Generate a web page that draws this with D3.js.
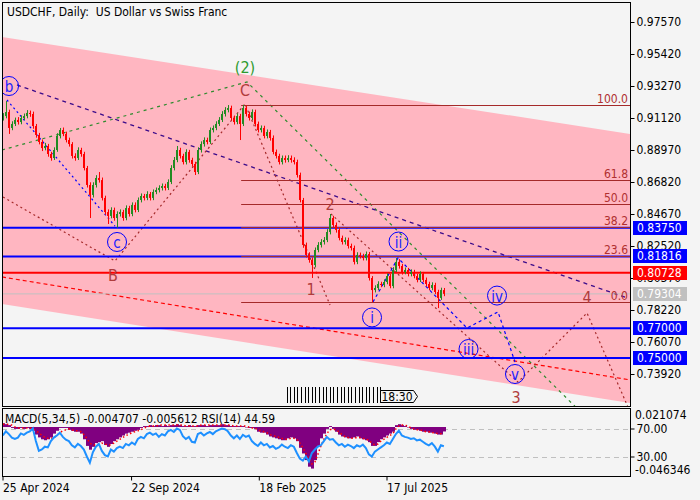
<!DOCTYPE html>
<html><head><meta charset="utf-8">
<script src="https://cdn.jsdelivr.net/npm/d3@7"></script>
<style>
html,body{margin:0;padding:0;background:#f4f4f4;}
svg{display:block;font-family:"DejaVu Sans Condensed","Liberation Sans",Arial,sans-serif;}
text{white-space:pre;}
</style></head><body>
<svg id="chart" width="700" height="500"></svg>
<script>
// ---------- DATA ----------
const chartTitle = "USDCHF, Daily:  US Dollar vs Swiss Franc";
const subTitle = "MACD(5,34,5) -0.004707 -0.005612 RSI(14) 44.59";
// x axis: days since 25 Apr 2024
const dateTickDays = [0, 150, 299, 448];
const dateTickLabels = ["25 Apr 2024", "22 Sep 2024", "18 Feb 2025", "17 Jul 2025"];
const priceTicks = [0.97570, 0.95420, 0.93270, 0.91120, 0.88970, 0.86820, 0.84670, 0.82520, 0.80370, 0.78220, 0.76070, 0.73920];
const subTickMacd = [0.021074, -0.046346];
const subTickRsi = [70, 30];
const barStartDay = 1, barStepDays = 3.5;
const firstOpen = 0.9112;
const closes = [
 0.9125,0.9152,0.9045,0.9072,0.9099,0.9085,0.9112,0.9125,0.9146,0.9139,
 0.9058,0.8998,0.8951,0.8910,0.8924,0.8870,0.8843,0.8897,0.8991,0.9031,
 0.9005,0.8964,0.8937,0.8857,0.8843,0.8897,0.8870,0.8776,0.8662,0.8595,
 0.8662,0.8709,0.8695,0.8575,0.8480,0.8454,0.8494,0.8440,0.8467,0.8480,
 0.8440,0.8507,0.8467,0.8528,0.8494,0.8561,0.8588,0.8575,0.8601,0.8575,
 0.8615,0.8628,0.8642,0.8655,0.8642,0.8682,0.8776,0.8830,0.8897,0.8857,
 0.8816,0.8884,0.8830,0.8803,0.8749,0.8897,0.8937,0.8964,0.8951,0.9031,
 0.9045,0.9072,0.9099,0.9139,0.9166,0.9179,0.9112,0.9085,0.9125,0.9072,
 0.9179,0.9139,0.9112,0.9152,0.9072,0.9031,0.9045,0.8991,0.9018,0.8978,
 0.8884,0.8857,0.8816,0.8843,0.8830,0.8843,0.8830,0.8816,0.8729,0.8561,
 0.8259,0.8192,0.8158,0.8124,0.8225,0.8259,0.8279,0.8292,0.8346,0.8440,
 0.8393,0.8360,0.8306,0.8279,0.8292,0.8252,0.8239,0.8145,0.8192,0.8185,
 0.8171,0.8198,0.8037,0.7956,0.7970,0.7997,0.7990,0.8010,0.8050,0.7983,
 0.8091,0.8145,0.8118,0.8077,0.8091,0.8064,0.8077,0.8050,0.8024,0.8064,
 0.8024,0.7997,0.7970,0.7990,0.7943,0.7903,0.7956,0.79304];
const highs = [
 0.9145,0.9226,0.9168,0.9090,0.9115,0.9118,0.9130,0.9142,0.9165,0.9162,
 0.9155,0.9072,0.9012,0.8968,0.8945,0.8938,0.8885,0.8915,0.9010,0.9045,
 0.9048,0.9020,0.8980,0.8950,0.8875,0.8915,0.8912,0.8885,0.8790,0.8680,
 0.8680,0.8728,0.8749,0.8712,0.8590,0.8498,0.8512,0.8510,0.8485,0.8498,
 0.8495,0.8525,0.8522,0.8545,0.8545,0.8578,0.8605,0.8602,0.8620,0.8615,
 0.8632,0.8645,0.8660,0.8672,0.8670,0.8700,0.8795,0.8850,0.8924,0.8912,
 0.8872,0.8902,0.8898,0.8845,0.8818,0.8915,0.8955,0.8982,0.8980,0.9048,
 0.9062,0.9090,0.9118,0.9158,0.9185,0.9199,0.9195,0.9128,0.9142,0.9140,
 0.9200,0.9195,0.9155,0.9170,0.9168,0.9088,0.9062,0.9060,0.9035,0.9032,
 0.8995,0.8900,0.8872,0.8860,0.8860,0.8862,0.8860,0.8848,0.8832,0.8745,
 0.8575,0.8275,0.8210,0.8175,0.8242,0.8278,0.8298,0.8312,0.8365,0.8467,
 0.8455,0.8410,0.8375,0.8322,0.8310,0.8308,0.8268,0.8255,0.8210,0.8208,
 0.8200,0.8215,0.8212,0.8050,0.7988,0.8015,0.8012,0.8028,0.8068,0.8065,
 0.8110,0.8171,0.8165,0.8132,0.8108,0.8105,0.8095,0.8092,0.8065,0.8082,
 0.8078,0.8040,0.8012,0.8008,0.8005,0.7958,0.7972,0.7970];
const lows = [
 0.9095,0.9110,0.9005,0.9030,0.9058,0.9068,0.9070,0.9098,0.9110,0.9120,
 0.9040,0.8980,0.8935,0.8890,0.8895,0.8852,0.8825,0.8830,0.8885,0.8975,
 0.8990,0.8948,0.8920,0.8840,0.8825,0.8830,0.8852,0.8760,0.8645,0.8440,
 0.8578,0.8645,0.8678,0.8558,0.8462,0.8400,0.8438,0.8422,0.8375,0.8450,
 0.8422,0.8425,0.8450,0.8452,0.8478,0.8480,0.8545,0.8558,0.8560,0.8558,
 0.8560,0.8600,0.8612,0.8625,0.8625,0.8628,0.8668,0.8760,0.8815,0.8840,
 0.8800,0.8800,0.8812,0.8785,0.8729,0.8735,0.8880,0.8920,0.8935,0.8938,
 0.9015,0.9030,0.9058,0.9085,0.9122,0.9150,0.9095,0.9068,0.9070,0.8964,
 0.9058,0.9122,0.9095,0.9098,0.9055,0.9015,0.9015,0.8975,0.8975,0.8960,
 0.8868,0.8840,0.8800,0.8800,0.8812,0.8815,0.8812,0.8800,0.8712,0.8545,
 0.8240,0.8175,0.8140,0.8037,0.8108,0.8210,0.8242,0.8262,0.8278,0.8330,
 0.8378,0.8342,0.8290,0.8262,0.8262,0.8235,0.8222,0.8128,0.8130,0.8168,
 0.8155,0.8155,0.8020,0.7876,0.7940,0.7955,0.7975,0.7975,0.7995,0.7968,
 0.7968,0.8078,0.8100,0.8060,0.8062,0.8048,0.8048,0.8035,0.8008,0.8010,
 0.8008,0.7980,0.7955,0.7955,0.7928,0.7835,0.7890,0.7915];
const macdHist = [
 0.004,0.003,0.002,-0.001,-0.002,-0.002,-0.001,-0.002,-0.001,-0.002,
 -0.004,-0.008,-0.011,-0.013,-0.014,-0.013,-0.011,-0.007,-0.004,-0.001,
 -0.001,-0.001,-0.003,-0.004,-0.005,-0.005,-0.007,-0.013,-0.020,-0.024,
 -0.021,-0.017,-0.016,-0.015,-0.019,-0.021,-0.018,-0.015,-0.013,-0.011,
 -0.009,-0.007,-0.006,-0.005,-0.004,-0.003,-0.001,0.001,0.001,0.002,
 0.001,0.002,0.002,0.001,0.002,0.001,0.002,0.002,0.003,0.002,
 0.001,0.001,0.002,0.001,0.001,0.002,0.002,0.002,0.001,0.002,
 0.002,0.002,0.002,0.003,0.002,0.002,0.001,0.001,0.001,0.001,
 0.001,0.000,-0.001,-0.001,-0.002,-0.005,-0.006,-0.006,-0.008,-0.010,
 -0.011,-0.012,-0.013,-0.014,-0.014,-0.012,-0.011,-0.012,-0.015,-0.022,
 -0.028,-0.035,-0.042,-0.044,-0.035,-0.020,-0.012,-0.007,-0.002,0.001,
 -0.002,-0.005,-0.008,-0.010,-0.011,-0.012,-0.012,-0.011,-0.010,-0.012,
 -0.013,-0.014,-0.016,-0.020,-0.020,-0.016,-0.013,-0.011,-0.009,-0.007,
 -0.005,0.002,0.003,0.002,0.001,0.000,-0.002,-0.003,-0.003,-0.004,
 -0.005,-0.005,-0.006,-0.006,-0.007,-0.008,-0.008,-0.004707];
const macdSignal = [
 0.003,0.003,0.003,0.002,0.000,-0.001,-0.001,-0.001,-0.001,-0.001,
 -0.002,-0.004,-0.006,-0.009,-0.011,-0.012,-0.012,-0.011,-0.009,-0.006,
 -0.004,-0.003,-0.002,-0.003,-0.004,-0.004,-0.005,-0.008,-0.012,-0.017,
 -0.019,-0.019,-0.018,-0.017,-0.018,-0.019,-0.019,-0.017,-0.015,-0.013,
 -0.011,-0.009,-0.008,-0.006,-0.005,-0.004,-0.003,-0.001,0.000,0.001,
 0.001,0.001,0.002,0.002,0.002,0.002,0.002,0.002,0.002,0.002,
 0.002,0.001,0.001,0.001,0.001,0.001,0.002,0.002,0.002,0.002,
 0.002,0.002,0.002,0.002,0.002,0.002,0.002,0.001,0.001,0.001,
 0.001,0.001,0.000,-0.001,-0.001,-0.003,-0.004,-0.005,-0.006,-0.008,
 -0.009,-0.010,-0.011,-0.012,-0.013,-0.013,-0.012,-0.012,-0.013,-0.017,
 -0.022,-0.028,-0.034,-0.039,-0.037,-0.029,-0.020,-0.013,-0.007,-0.003,
 -0.002,-0.003,-0.005,-0.008,-0.010,-0.011,-0.012,-0.012,-0.011,-0.011,
 -0.012,-0.013,-0.014,-0.017,-0.019,-0.018,-0.015,-0.013,-0.011,-0.009,
 -0.007,-0.002,0.001,0.002,0.002,0.001,-0.001,-0.002,-0.003,-0.003,
 -0.004,-0.005,-0.005,-0.006,-0.006,-0.007,-0.007,-0.005612];
const rsiValues = [
 60,66,62,57,55,57,63,61,64,66,
 70,52,38,40,44,43,52,57,60,64,
 58,54,52,46,43,48,45,40,30,21,
 36,44,48,38,32,30,40,37,42,44,
 42,48,46,50,47,55,58,56,62,64,
 61,63,58,62,60,66,68,65,70,68,
 59,55,58,51,50,62,64,60,63,65,
 62,66,68,70,69,66,60,56,60,55,
 61,58,60,52,48,45,50,46,48,43,
 45,41,43,47,44,42,46,44,35,27,
 24,30,23,35,40,44,46,52,58,54,
 55,50,46,48,44,47,45,42,46,44,
 47,42,33,30,37,40,43,46,50,48,
 55,62,67,60,58,57,55,56,53,54,
 51,48,46,49,44,37,46,44.59];
// horizontal support/resistance levels (price axis labels)
const levelPrices = [0.83750, 0.81816, 0.80728, 0.79304, 0.77000, 0.75000];
const levelKinds = ["support", "support", "pivot", "current", "support", "support"];
// Fibonacci retracement
const fibHigh = 0.9200, fibLow = 0.7873, fibStartDay = 279;
const fibLevels = [100, 61.8, 50, 38.2, 23.6, 0];
// channel and trend lines, [day, price]
const channelTop = [[0, 0.9656], [733, 0.9005]];
const channelBottom = [[0, 0.7862], [733, 0.7197]];
const redTrend = [[0, 0.8044], [733, 0.7352]];
const greenWave = [[0, 0.8897], [285.8, 0.9354], [733, 0.6807]];
const indigoTrend = [[17.5, 0.9334], [729.2, 0.7903]];
const blueDotted = [[5.8, 0.9233], [131.8, 0.8386]];
const brownWave1 = [[1.2, 0.8581], [131.8, 0.8151], [283.5, 0.9206], [382.7, 0.7856]];
const brownWave2 = [[383.8, 0.8467], [602, 0.7338], [682.5, 0.7802], [730.3, 0.7170]];
const blueWave = [[432.8, 0.7876], [462, 0.8171], [542.5, 0.7701], [578.7, 0.7809], [598.5, 0.7473]];
// wave labels
const brownLabels = ["C", "B", "1", "2", "3", "4"];
const brownLabelDays = [283.5, 129.5, 360.5, 382.7, 599.7, 682.5];
const brownLabelPrices = [0.9300, 0.8051, 0.7963, 0.8534, 0.7231, 0.7909];
const circleLabels = ["b", "c", "i", "ii", "iii", "iv", "v"];
const circleLabelDays = [8.2, 134.2, 431.7, 462.6, 544.3, 577.5, 598.5];
const circleLabelPrices = [0.9327, 0.8279, 0.7772, 0.8282, 0.7560, 0.7919, 0.7392];
const greenLabel = "(2)", greenLabelDay = 283.5, greenLabelPrice = 0.9448;
const timerLabel = "18:30";

// ---------- LAYOUT ----------
const W = 700, H = 500;
const plotL = 2, plotR = 630, mainT = 2, mainB = 406, subT = 408, subB = 476;
const FONT = '"DejaVu Sans Condensed","Liberation Sans",Arial,sans-serif';

const x = d3.scaleLinear().domain([0, 448]).range([2, 386]);
const y = d3.scaleLinear().domain([0.73920, 0.97570]).range([374, 22]);
const yM = d3.scaleLinear().domain([-0.046346, 0.021074]).range([470.8, 407.1]);
const yR = d3.scaleLinear().domain([30, 70]).range([456.5, 428.5]);

const svg = d3.select("#chart");
svg.append("rect").attr("width", W).attr("height", H).attr("fill", "#f4f4f4");
const defs = svg.append("defs");
defs.append("clipPath").attr("id", "clipMain").append("rect")
  .attr("x", plotL).attr("y", mainT).attr("width", plotR - plotL).attr("height", mainB - mainT);
defs.append("clipPath").attr("id", "clipSub").append("rect")
  .attr("x", plotL).attr("y", subT).attr("width", plotR - plotL).attr("height", subB - subT);

const main = svg.append("g").attr("clip-path", "url(#clipMain)");
const line = d3.line().x(d => x(d[0])).y(d => y(d[1]));

// channel
main.append("path")
  .attr("d", line(channelTop.concat(channelBottom.slice().reverse())) + "Z")
  .attr("fill", "#ffb6c1");

// trend/wave lines
function drawLine(pts, color, dash, w) {
  main.append("path").attr("d", line(pts)).attr("fill", "none")
    .attr("stroke", color).attr("stroke-width", w || 1).attr("stroke-dasharray", dash);
}
drawLine(redTrend, "#ff0000", "4,3", 1.2);
drawLine(greenWave, "#2e8b2e", "3,4", 1.2);
drawLine(indigoTrend, "#3b0a8a", "4,4", 1.3);
drawLine(blueDotted, "#0000ff", "2,3", 1.2);
drawLine(brownWave1, "#a52a2a", "2,3", 1.2);
drawLine(brownWave2, "#a52a2a", "2,3", 1.2);
drawLine(blueWave, "#0000ff", "3,3", 1.2);

// horizontal levels
const levelColor = k => k === "pivot" ? "#ff0000" : k === "current" ? "#c0c0c0" : "#0000ff";
levelPrices.forEach((p, i) => {
  main.append("line").attr("x1", plotL).attr("x2", plotR)
    .attr("y1", y(p)).attr("y2", y(p))
    .attr("stroke", levelColor(levelKinds[i]))
    .attr("stroke-width", levelKinds[i] === "current" ? 1 : 2);
});

// fibonacci
fibLevels.forEach(lv => {
  const p = fibLow + (fibHigh - fibLow) * lv / 100;
  const yy = Math.round(y(p)) + 0.5;
  main.append("line").attr("x1", x(fibStartDay)).attr("x2", plotR)
    .attr("y1", yy).attr("y2", yy).attr("stroke", "#a52a2a").attr("stroke-width", 1);
  main.append("text").attr("x", plotR - 2).attr("y", yy - 3).attr("text-anchor", "end")
    .attr("font-size", 12).attr("fill", "#b03030").attr("font-family", FONT)
    .text(d3.format(".1f")(lv));
});

// candles
const bars = closes.map((c, i) => ({
  day: barStartDay + i * barStepDays,
  o: i ? closes[i - 1] : firstOpen, h: highs[i], l: lows[i], c: c
}));
const cg = main.append("g");
bars.forEach(b => {
  const bx = Math.round(x(b.day));
  const col = b.c >= b.o ? "#228b22" : "#ff0000";
  cg.append("rect").attr("x", bx).attr("width", 1)
    .attr("y", y(b.h)).attr("height", Math.max(1, y(b.l) - y(b.h))).attr("fill", col);
  const top = y(Math.max(b.o, b.c)), bot = y(Math.min(b.o, b.c));
  cg.append("rect").attr("x", bx - 1).attr("width", 2)
    .attr("y", top).attr("height", Math.max(1, bot - top)).attr("fill", col);
});

// labels
const brownG = main.append("g").attr("font-family", FONT);
brownLabels.forEach((t, i) => {
  brownG.append("text").attr("x", x(brownLabelDays[i])).attr("y", y(brownLabelPrices[i]))
    .attr("text-anchor", "middle").attr("dominant-baseline", "central")
    .attr("font-size", 16).attr("fill", "#b03c3c").text(t);
});
main.append("text").attr("x", x(greenLabelDay)).attr("y", y(greenLabelPrice))
  .attr("text-anchor", "middle").attr("dominant-baseline", "central")
  .attr("font-size", 16).attr("fill", "#2e9a2e").attr("font-family", FONT).text(greenLabel);
circleLabels.forEach((t, i) => {
  const cx = x(circleLabelDays[i]), cy = y(circleLabelPrices[i]);
  main.append("circle").attr("cx", cx).attr("cy", cy).attr("r", 9.5)
    .attr("fill", "none").attr("stroke", "#0000ff").attr("stroke-width", 1);
  main.append("text").attr("x", cx).attr("y", cy + 1).attr("text-anchor", "middle")
    .attr("dominant-baseline", "central").attr("font-size", 15).attr("fill", "#2222ff")
    .attr("font-family", FONT).text(t);
});

// session marks + timer
const tg = svg.append("g");
d3.range(27).forEach(k => {
  const xx = 286.5 + k * 3.6;
  tg.append("line").attr("x1", Math.round(xx) + 0.5).attr("x2", Math.round(xx) + 0.5)
    .attr("y1", 387).attr("y2", 403).attr("stroke", "#000").attr("stroke-width", 1);
});
tg.append("path").attr("d", "M380.5,390.5 L413.5,390.5 L417.5,396.5 L413.5,402.5 L380.5,402.5 Z")
  .attr("fill", "#f4f4f4").attr("stroke", "#000");
tg.append("text").attr("x", 397).attr("y", 400.5).attr("text-anchor", "middle")
  .attr("font-size", 12).attr("font-family", FONT).text(timerLabel);

// ---------- SUB PANEL ----------
const sub = svg.append("g").attr("clip-path", "url(#clipSub)");
subTickRsi.forEach(v => {
  sub.append("line").attr("x1", plotL).attr("x2", plotR).attr("y1", Math.round(yR(v)) + 0.5)
    .attr("y2", Math.round(yR(v)) + 0.5).attr("stroke", "#c0c0c0").attr("stroke-dasharray", "5,4");
});
macdHist.forEach((v, i) => {
  const bx = Math.round(x(barStartDay + i * barStepDays));
  const y0 = yM(0), y1 = yM(v);
  sub.append("rect").attr("x", bx - 1).attr("width", 3)
    .attr("y", Math.min(y0, y1)).attr("height", Math.max(0.5, Math.abs(y1 - y0)))
    .attr("fill", "#800080");
});
sub.append("path").attr("d", d3.line().x((d, i) => x(barStartDay + i * barStepDays)).y(d => yM(d))(macdSignal))
  .attr("fill", "none").attr("stroke", "#ff0000").attr("stroke-width", 1.5).attr("stroke-dasharray", "1.5,2.5");
sub.append("path").attr("d", d3.line().x((d, i) => x(barStartDay + i * barStepDays)).y(d => yR(d))(rsiValues))
  .attr("fill", "none").attr("stroke", "#1e90ff").attr("stroke-width", 2);

// ---------- FRAMES & AXES ----------
svg.append("rect").attr("x", plotL + 0.5).attr("y", mainT + 0.5).attr("width", plotR - plotL)
  .attr("height", mainB - mainT).attr("fill", "none").attr("stroke", "#000");
svg.append("rect").attr("x", plotL + 0.5).attr("y", subT + 0.5).attr("width", plotR - plotL)
  .attr("height", subB - subT).attr("fill", "none").attr("stroke", "#000");

const yAxis = d3.axisRight(y).tickValues(priceTicks).tickFormat(d3.format(".5f")).tickSize(4).tickPadding(2);
const ga = svg.append("g").attr("transform", `translate(${plotR + 0.5},0)`).call(yAxis);
ga.select(".domain").remove();
ga.selectAll("text").attr("font-size", 12).attr("font-family", FONT).attr("fill", "#000");
ga.selectAll("line").attr("stroke", "#000");

const rAxis = d3.axisRight(yR).tickValues(subTickRsi).tickFormat(d3.format(".2f")).tickSize(4).tickPadding(2);
const gr = svg.append("g").attr("transform", `translate(${plotR + 0.5},0)`).call(rAxis);
gr.select(".domain").remove();
gr.selectAll("text").attr("font-size", 12).attr("font-family", FONT).attr("fill", "#000");
gr.selectAll("line").attr("stroke", "#000");

subTickMacd.forEach((v, i) => {
  svg.append("text").attr("x", 635).attr("y", i === 0 ? yM(v) + 8 : yM(v) - 1)
    .attr("dominant-baseline", "central").attr("font-size", 12).attr("font-family", FONT)
    .text(d3.format(".6f")(v).replace("−", "-"));
});

const xAxis = d3.axisBottom(x).tickValues(dateTickDays).tickFormat((d, i) => dateTickLabels[i]).tickSize(4).tickPadding(3);
const gx = svg.append("g").attr("transform", `translate(0.5,${subB + 0.5})`).call(xAxis);
gx.select(".domain").remove();
gx.selectAll("text").attr("font-size", 12).attr("font-family", FONT).attr("fill", "#000").attr("text-anchor", "start");
gx.selectAll("line").attr("stroke", "#000");

// level labels on the price axis
levelPrices.forEach((p, i) => {
  const yy = y(p);
  svg.append("rect").attr("x", 633).attr("y", Math.round(yy) - 7).attr("width", 54).attr("height", 14)
    .attr("fill", levelColor(levelKinds[i]));
  svg.append("text").attr("x", 637).attr("y", Math.round(yy)).attr("dominant-baseline", "central")
    .attr("font-size", 12).attr("font-family", FONT).attr("fill", "#fff").text(d3.format(".5f")(p));
});

// titles
svg.append("text").attr("x", 7).attr("y", 16).attr("font-size", 12).attr("font-family", FONT)
  .attr("xml:space", "preserve").text(chartTitle);
svg.append("text").attr("x", 5).attr("y", 423).attr("font-size", 12).attr("font-family", FONT).text(subTitle);
</script>
</body></html>
